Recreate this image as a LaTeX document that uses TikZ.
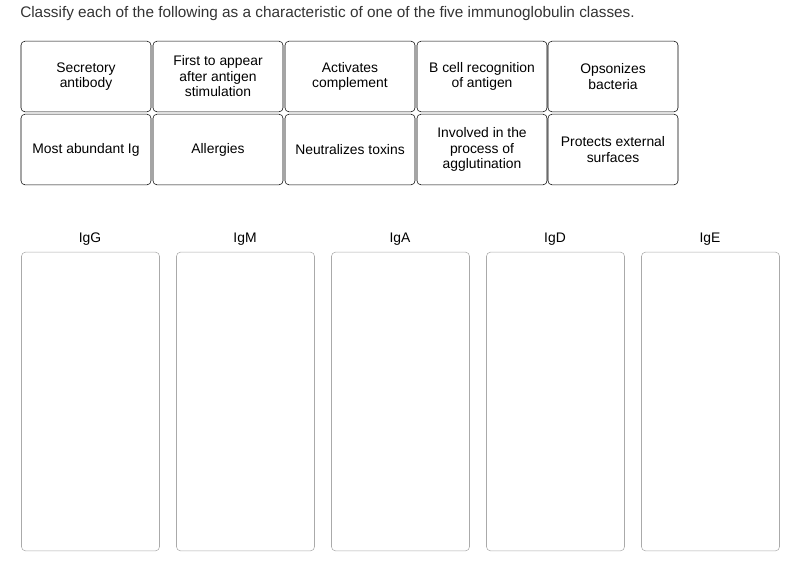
\documentclass[tikz,border=0pt]{standalone}
\usepackage{fontspec}
\setmainfont{Liberation Sans}
\definecolor{binline}{RGB}{170,170,170}
\definecolor{textgray}{RGB}{51,51,51}
\tikzset{
  card/.style={draw=black, rounded corners=3pt, minimum width=97.5pt, minimum height=53pt,
               align=center, font=\fontsize{10.4}{11.6}\selectfont, inner sep=1pt},
  bin/.style={draw=binline, rounded corners=3pt, minimum width=103.5pt, minimum height=224pt},
  binlabel/.style={font=\fontsize{10.4}{12}\selectfont}
}
\begin{document}
\begin{tikzpicture}[x=0.75pt, y=-0.75pt]
            \useasboundingbox (0,0) rectangle (795,561);
            \node[anchor=west, font=\fontsize{11.5}{13}\selectfont, text=textgray, inner sep=0pt] (title) at (20,14)
                 {Classify each of the following as a characteristic of one of the five immunoglobulin classes.};
            % first row of cards
            \node[card] (secretory)  at ( 86, 76.5) {Secretory\\antibody};
            \node[card] (first)      at (218, 76.5) {First to appear\\after antigen\\stimulation};
            \node[card] (complement) at (350, 76.5) {Activates\\complement};
            \node[card] (bcell)      at (482, 76.5) {B cell recognition\\of antigen};
            \node[card] (opsonizes)  at (613, 76.5) {Opsonizes\\bacteria};
            % second row of cards
            \node[card] (abundant)   at ( 86,149.5) {Most abundant Ig};
            \node[card] (allergies)  at (218,149.5) {Allergies};
            \node[card] (toxins)     at (350,149.5) {Neutralizes toxins};
            \node[card] (agglut)     at (482,149.5) {Involved in the\\process of\\agglutination};
            \node[card] (external)   at (613,149.5) {Protects external\\surfaces};
            % bins
            \foreach \name/\x in {IgG/90, IgM/245, IgA/400, IgD/555, IgE/710}{
                \node[binlabel] (lab\name) at (\x,239) {\name};
                \node[bin] (bin\name) at (\x+0.5,401.5) {};
            }
        \end{tikzpicture}
\end{document}
